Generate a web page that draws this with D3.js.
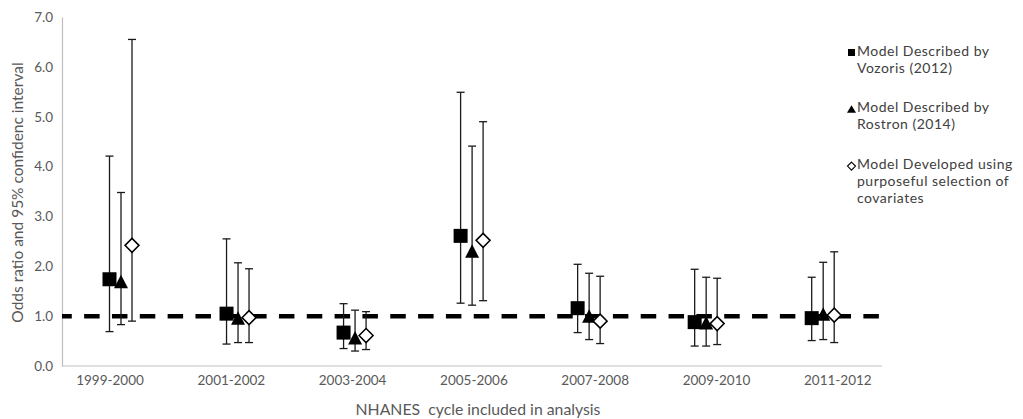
<!DOCTYPE html>
<html><head><meta charset="utf-8">
<script src="https://cdn.jsdelivr.net/npm/d3@7"></script>
<style>
body{margin:0;background:#fff}
svg{display:block}
text{font-family:Lato,"Open Sans",sans-serif}
</style>
</head><body>
<svg id="chart" width="1023" height="419"></svg>
<script>
// ---- data ----
const categories = ["1999-2000","2001-2002","2003-2004","2005-2006","2007-2008","2009-2010","2011-2012"];
const seriesNames = ["Vozoris", "Rostron", "Purposeful"];
const legendLines = [
  ["Model Described by", "Vozoris (2012)"],
  ["Model Described by", "Rostron (2014)"],
  ["Model Developed using", "purposeful selection of", "covariates"]
];
const vozorisOR   = [1.74, 1.05, 0.67, 2.61, 1.16, 0.88, 0.96];
const vozorisLow  = [0.69, 0.44, 0.35, 1.26, 0.67, 0.40, 0.51];
const vozorisHigh = [4.21, 2.55, 1.25, 5.49, 2.04, 1.94, 1.78];
const rostronOR   = [1.69, 0.96, 0.56, 2.30, 1.00, 0.86, 1.04];
const rostronLow  = [0.83, 0.47, 0.30, 1.22, 0.53, 0.40, 0.53];
const rostronHigh = [3.48, 2.07, 1.12, 4.41, 1.86, 1.78, 2.08];
const purposeOR   = [2.42, 0.97, 0.61, 2.52, 0.90, 0.85, 1.02];
const purposeLow  = [0.90, 0.47, 0.33, 1.31, 0.45, 0.43, 0.47];
const purposeHigh = [6.55, 1.95, 1.09, 4.90, 1.80, 1.76, 2.29];
const yTicks = [0, 1, 2, 3, 4, 5, 6, 7];
const referenceOR = 1.0;
const xTitle = "NHANES  cycle included in analysis";
const yTitle = "Odds ratio and 95% confidenc interval";

// ---- build ----
const series = [
  {name: seriesNames[0], or: vozorisOR, lo: vozorisLow, hi: vozorisHigh, shape: "square"},
  {name: seriesNames[1], or: rostronOR, lo: rostronLow, hi: rostronHigh, shape: "triangle"},
  {name: seriesNames[2], or: purposeOR, lo: purposeLow, hi: purposeHigh, shape: "diamond"}
];
const seriesOffset = [0, 11.5, 22.5];

const svg = d3.select("#chart");
const plotLeft = 62, plotRight = 882, plotTop = 17, plotBottom = 366;
const y = d3.scaleLinear().domain([0, 7]).range([plotBottom, plotTop]);
const xMarks = d3.scalePoint().domain(categories).range([109.5, 811.7]);
const xLabels = d3.scalePoint().domain(categories).range([109.5, 837.3]);
const xFrame = d3.scaleLinear().domain([0, 1]).range([plotLeft, plotRight]);

// y axis
const yAxis = svg.append("g").attr("transform", `translate(${plotLeft},0)`)
  .call(d3.axisLeft(y).tickValues(yTicks).tickFormat(d3.format(".1f")).tickSize(0).tickSizeOuter(0).tickPadding(9));
yAxis.select(".domain").attr("stroke", "#bfbfbf").attr("stroke-width", 1.2);
yAxis.selectAll("text").attr("fill", "#595959").style("font-size", "13.5px").style("font-family", "Lato");

// x axis
svg.append("line").attr("x1", xFrame(0)).attr("x2", xFrame(1)).attr("y1", plotBottom).attr("y2", plotBottom)
  .attr("stroke", "#bfbfbf").attr("stroke-width", 1.2);
const xAxis = svg.append("g").attr("transform", `translate(0,${plotBottom})`)
  .call(d3.axisBottom(xLabels).tickSize(0).tickPadding(9));
xAxis.select(".domain").remove();
xAxis.selectAll("text").attr("fill", "#595959").style("font-size", "13.5px").style("font-family", "Lato");

// titles
svg.append("text").attr("x", 478).attr("y", 415).attr("text-anchor", "middle")
  .attr("fill", "#595959").style("font-size", "15.8px").style("white-space", "pre").text(xTitle);
svg.append("text").attr("transform", "translate(23,192.5) rotate(-90)").attr("text-anchor", "middle")
  .attr("fill", "#595959").style("font-size", "15.5px").text(yTitle);

// reference dashed line
const refLine = d3.line().x(d => xFrame(d)).y(() => y(referenceOR));
svg.append("path").attr("d", refLine([0, 1])).attr("fill", "none")
  .attr("stroke", "#000").attr("stroke-width", 4.5)
  .attr("stroke-dasharray", "15.5,12.33").attr("stroke-dashoffset", 5.7);

// error bars and markers
const capW = 4;
series.forEach((s, si) => {
  const g = svg.append("g");
  const pts = categories.map((c, i) => ({x: xMarks(c) + seriesOffset[si], or: s.or[i], lo: s.lo[i], hi: s.hi[i]}));
  const eb = g.selectAll("g.eb").data(pts).join("g").attr("class", "eb")
    .attr("stroke", "#1a1a1a").attr("stroke-width", 1.3);
  eb.append("line").attr("x1", d => d.x).attr("x2", d => d.x).attr("y1", d => y(d.lo)).attr("y2", d => y(d.hi));
  eb.append("line").attr("x1", d => d.x - capW).attr("x2", d => d.x + capW).attr("y1", d => y(d.lo)).attr("y2", d => y(d.lo));
  eb.append("line").attr("x1", d => d.x - capW).attr("x2", d => d.x + capW).attr("y1", d => y(d.hi)).attr("y2", d => y(d.hi));
  const mk = g.selectAll("path.mk").data(pts).join("path").attr("class", "mk")
    .attr("transform", d => `translate(${d.x},${y(d.or)})`);
  if (s.shape === "square") mk.attr("d", "M-7,-7H7V7H-7Z").attr("fill", "#000");
  else if (s.shape === "triangle") mk.attr("d", "M0,-7L7,6.5H-7Z").attr("fill", "#000");
  else mk.attr("d", "M0,-7L7,0L0,7L-7,0Z").attr("fill", "#fff").attr("stroke", "#000").attr("stroke-width", 1.5);
});

// legend
const legendX = 857, legendY0 = 55.5, blockGap = 56.8, lineH = 17;
series.forEach((s, si) => {
  const by = legendY0 + si * blockGap;
  const g = svg.append("g");
  const m = g.append("path").attr("transform", `translate(851.5,${by - 3})`);
  if (s.shape === "square") m.attr("d", "M-3.5,-3.5H3.5V3.5H-3.5Z").attr("fill", "#000");
  else if (s.shape === "triangle") m.attr("d", "M0,-4L4.5,3.5H-4.5Z").attr("fill", "#000");
  else m.attr("d", "M0,-4L4,0L0,4L-4,0Z").attr("fill", "#fff").attr("stroke", "#000").attr("stroke-width", 1.1);
  legendLines[si].forEach((t, li) => {
    g.append("text").attr("x", legendX).attr("y", by + li * lineH)
      .attr("fill", "#404040").style("font-size", "14px").style("letter-spacing", "0.5px").text(t);
  });
});
</script>
</body></html>
